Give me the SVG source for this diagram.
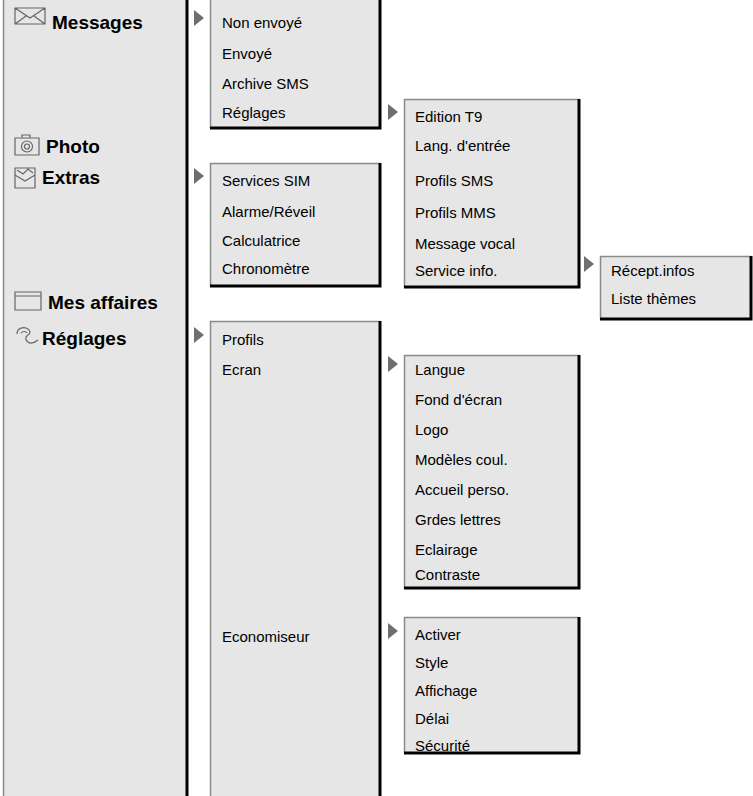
<svg xmlns="http://www.w3.org/2000/svg" width="753" height="796" viewBox="0 0 753 796">
<style>
.bx{fill:#e6e6e6;stroke:none}
.lt{stroke:#8a8a8a;stroke-width:1.5;fill:none}
.dk{stroke:#000;stroke-width:3;fill:none}
.t{font-family:"Liberation Sans",Arial,sans-serif;font-size:15px;fill:#000}
.b{font-family:"Liberation Sans",Arial,sans-serif;font-size:19px;font-weight:bold;fill:#000}
.ar{fill:#6e6e6e}
.ic{fill:none;stroke:#666;stroke-width:1.2}
</style>
<rect width="753" height="796" fill="#fff"/>
<g id="main">
<rect class="bx" x="3" y="0" width="184" height="796"/>
<path class="lt" d="M3.5 0V796"/>
<path class="dk" d="M187 0V796"/>
<g id="icons">
<path class="ic" d="M15 8h30v16h-30z M15 8l15 10l15-10 M15 24l11-8 M45 24l-11-8"/>
<path class="ic" d="M15 138h24v17h-24z M22 138v-3h8v3"/><circle class="ic" cx="27" cy="146.5" r="5.5"/><circle class="ic" cx="27" cy="146.5" r="2.5"/>
<path class="ic" d="M15 168h20v20h-20z M15 175l10 6l10-6 M17 170l6 4l5-5l5 4"/>
<path class="ic" d="M15 292h26v18h-26z M15 296h26"/>
<path class="ic" d="M17 334c0-6 7-8 11-5c3 2 2 5 0 6c-3 2-3 5 0 7c2 2 6 1 10-2 M21 333c2-2 5-2 6 0"/>
</g>
<text class="b" x="52" y="29">Messages</text>
<text class="b" x="46" y="153">Photo</text>
<text class="b" x="42" y="184">Extras</text>
<text class="b" x="48" y="309">Mes affaires</text>
<text class="b" x="42" y="345">Réglages</text>
</g>
<g id="connectors">
<path class="ar" d="M194 10l10 8l-10 8z M194 168l10 8l-10 8z M194 327l10 8l-10 8z M388 104l10 8l-10 8z M388 356l10 8l-10 8z M388 623l10 8l-10 8z M584 256l10 8l-10 8z"/>
</g>
<g id="messages">
<rect class="bx" x="210" y="0" width="170" height="128"/>
<path class="lt" d="M210.5 128V0"/><path class="dk" d="M210 128H380V0"/>
<text class="t" x="222" y="28">Non envoyé</text><text class="t" x="222" y="59">Envoyé</text><text class="t" x="222" y="89">Archive SMS</text><text class="t" x="222" y="118">Réglages</text>
</g>
<g id="extras">
<rect class="bx" x="210" y="163" width="170" height="123"/>
<path class="lt" d="M210.5 286V163.5H380"/><path class="dk" d="M210 286H380V163"/>
<text class="t" x="222" y="186">Services SIM</text><text class="t" x="222" y="217">Alarme/Réveil</text><text class="t" x="222" y="246">Calculatrice</text><text class="t" x="222" y="274">Chronomètre</text>
</g>
<g id="reglages-msg">
<rect class="bx" x="404" y="99" width="175" height="188"/>
<path class="lt" d="M404.5 287V99.5H579"/><path class="dk" d="M404 287H579V99"/>
<text class="t" x="415" y="122">Edition T9</text><text class="t" x="415" y="151">Lang. d'entrée</text><text class="t" x="415" y="186">Profils SMS</text><text class="t" x="415" y="218">Profils MMS</text><text class="t" x="415" y="249">Message vocal</text><text class="t" x="415" y="276">Service info.</text>
</g>
<g id="service-info">
<rect class="bx" x="600" y="256" width="151" height="63"/>
<path class="lt" d="M600.5 319V256.5H751"/><path class="dk" d="M600 319H751V256"/>
<text class="t" x="611" y="276">Récept.infos</text><text class="t" x="611" y="304">Liste thèmes</text>
</g>
<g id="reglages">
<rect class="bx" x="210" y="321" width="170" height="475"/>
<path class="lt" d="M210.5 796V321.5H380"/><path class="dk" d="M380 321V796"/>
<text class="t" x="222" y="345">Profils</text><text class="t" x="222" y="375">Ecran</text><text class="t" x="222" y="642">Economiseur</text>
</g>
<g id="ecran">
<rect class="bx" x="404" y="355" width="175" height="233"/>
<path class="lt" d="M404.5 588V355.5H579"/><path class="dk" d="M404 588H579V355"/>
<text class="t" x="415" y="375">Langue</text><text class="t" x="415" y="405">Fond d'écran</text><text class="t" x="415" y="435">Logo</text><text class="t" x="415" y="465">Modèles coul.</text><text class="t" x="415" y="495">Accueil perso.</text><text class="t" x="415" y="525">Grdes lettres</text><text class="t" x="415" y="555">Eclairage</text><text class="t" x="415" y="580">Contraste</text>
</g>
<g id="economiseur">
<rect class="bx" x="404" y="617" width="175" height="136"/>
<path class="lt" d="M404.5 753V617.5H579"/><path class="dk" d="M404 753H579V617"/>
<text class="t" x="415" y="640">Activer</text><text class="t" x="415" y="668">Style</text><text class="t" x="415" y="696">Affichage</text><text class="t" x="415" y="724">Délai</text><text class="t" x="415" y="751">Sécurité</text>
</g>
</svg>
